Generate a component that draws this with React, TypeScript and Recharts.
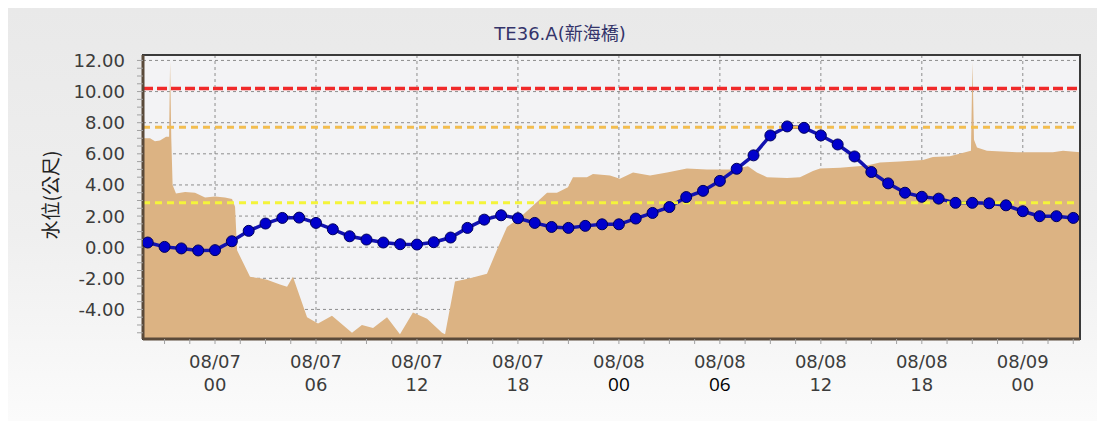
import {
  ComposedChart,
  Area,
  Line,
  XAxis,
  YAxis,
  CartesianGrid,
  ReferenceLine,
  ReferenceArea,
} from "recharts";

// x values are hours counted from 08/07 00:00
const levelHours = [
  -4, -3, -2, -1, 0, 1, 2, 3, 4, 5, 6, 7, 8, 9, 10, 11, 12, 13, 14, 15, 16, 17, 18, 19,
  20, 21, 22, 23, 24, 25, 26, 27, 28, 29, 30, 31, 32, 33, 34, 35, 36, 37, 38, 39, 40,
  41, 42, 43, 44, 45, 46, 47, 48, 49, 50, 51,
];
const levelValues = [
  0.3, 0.02, -0.08, -0.21, -0.19, 0.38, 1.05, 1.52, 1.88, 1.9, 1.56, 1.15, 0.7, 0.49,
  0.3, 0.19, 0.17, 0.32, 0.62, 1.24, 1.77, 2.05, 1.86, 1.56, 1.3, 1.24, 1.37, 1.47,
  1.47, 1.84, 2.2, 2.58, 3.22, 3.62, 4.26, 5.04, 5.9, 7.18, 7.76, 7.67, 7.18, 6.6,
  5.83, 4.83, 4.1, 3.5, 3.24, 3.12, 2.85, 2.85, 2.82, 2.69, 2.31, 1.99, 1.99, 1.88,
];

const groundHours = [
  -4.28, -3.86, -3.57, -3.27, -2.91, -2.73, -2.67, -2.6, -2.52, -2.32, -1.78, -1.19,
  -0.59, 0, 0.59, 1.01, 1.19, 1.31, 2.08, 2.67, 3.09, 3.86, 4.28, 4.63, 5.47, 6.12,
  6.95, 8.14, 8.73, 9.39, 10.22, 10.99, 11.76, 12.6, 13.49, 13.67, 14.26, 15.15, 16.16,
  16.82, 17.35, 18.12, 19.13, 19.73, 20.32, 20.97, 21.27, 22.1, 22.46, 23.47, 24.06,
  24.84, 25.85, 26.86, 28.04, 29.23, 30.6, 31.67, 32.2, 32.8, 33.99, 34.76, 35.53,
  35.95, 37.14, 38.74, 39.51, 40.7, 42.07, 42.66, 43.67, 44.92, 45.01, 45.1, 45.28,
  45.87, 47.65, 49.79, 50.39, 51.4,
];
const groundValues = [
  7.0, 7.0, 6.8, 6.85, 7.1, 7.1, 11.9, 7.0, 4.0, 3.45, 3.55, 3.5, 3.2, 3.25, 3.2, 3.1,
  2.6, -0.2, -1.9, -2.0, -2.1, -2.4, -2.55, -1.9, -4.5, -4.9, -4.4, -5.5, -5.0, -5.2,
  -4.5, -5.6, -4.2, -4.6, -5.5, -5.6, -2.2, -2.0, -1.7, 0.0, 1.3, 1.9, 2.9, 3.5, 3.5,
  3.85, 4.5, 4.5, 4.7, 4.6, 4.4, 4.8, 4.6, 4.8, 5.05, 5.0, 5.0, 5.2, 4.8, 4.5, 4.45,
  4.5, 4.9, 5.05, 5.1, 5.25, 5.45, 5.5, 5.6, 5.8, 5.85, 6.2, 11.9, 6.9, 6.4, 6.2, 6.1,
  6.1, 6.2, 6.1,
];

const alertRed = 10.2;
const alertOrange = 7.7;
const alertYellow = 2.85;

const xTicks = [
  -3, -1.5, 0, 1.5, 3, 4.5, 6, 7.5, 9, 10.5, 12, 13.5, 15, 16.5, 18, 19.5, 21, 22.5, 24,
  25.5, 27, 28.5, 30, 31.5, 33, 34.5, 36, 37.5, 39, 40.5, 42, 43.5, 45, 46.5, 48, 49.5, 51,
];
const xMajor = [0, 6, 12, 18, 24, 30, 36, 42, 48];
const xDates = ["08/07", "08/07", "08/07", "08/07", "08/08", "08/08", "08/08", "08/08", "08/09"];
const xHours = ["00", "06", "12", "18", "00", "06", "12", "18", "00"];

const yMajor = [-4, -2, 0, 2, 4, 6, 8, 10, 12];
const yTicks = [
  -5.5, -5, -4.5, -4, -3.5, -3, -2.5, -2, -1.5, -1, -0.5, 0, 0.5, 1, 1.5, 2, 2.5, 3, 3.5,
  4, 4.5, 5, 5.5, 6, 6.5, 7, 7.5, 8, 8.5, 9, 9.5, 10, 10.5, 11, 11.5, 12,
];

const X_MIN = -4.28;
const X_MAX = 51.4;
const Y_MIN = -5.9;
const Y_MAX = 12.35;

const levelData = levelHours.map((t, i) => ({ t, v: levelValues[i] }));
const groundData = groundHours.map((t, i) => ({ t, v: groundValues[i] }));

const tickFont = "'DejaVu Sans', Verdana, sans-serif";

function XTick({ x, y, payload }: any) {
  const i = xMajor.indexOf(payload.value);
  if (i < 0) return <g />;
  // the 08/08 00 and 06 hour labels are set in a different, black font
  const odd = i === 4 || i === 5;
  return (
    <g>
      <text x={x} y={y + 24} textAnchor="middle" fontSize={18} fill="#3c3c3c" fontFamily={tickFont}>
        {xDates[i]}
      </text>
      <text
        x={x}
        y={y + 47}
        textAnchor="middle"
        fontSize={odd ? 19 : 18}
        fill={odd ? "#000" : "#3c3c3c"}
        fontFamily={odd ? "'Open Sans', sans-serif" : tickFont}
      >
        {xHours[i]}
      </text>
    </g>
  );
}

function YTick({ x, y, payload }: any) {
  if (!yMajor.includes(payload.value)) return <g />;
  return (
    <text x={x} y={y + 6.5} textAnchor="end" fontSize={18} fill="#3c3c3c" fontFamily={tickFont}>
      {payload.value.toFixed(2)}
    </text>
  );
}

export default function App() {
  return (
    <div
      style={{
        position: "relative",
        width: 1089,
        height: 413,
        background: "linear-gradient(to bottom, #e9e9e9 0%, #efefef 55%, #fbfbfb 100%)",
      }}
    >
      <div
        style={{
          position: "absolute",
          left: 552,
          top: 11,
          transform: "translateX(-50%)",
          fontFamily: "'DejaVu Sans', 'Noto Sans CJK TC', sans-serif",
          fontSize: 18,
          color: "#34346a",
          whiteSpace: "nowrap",
        }}
      >
        TE36.A(新海橋)
      </div>
      <div
        style={{
          position: "absolute",
          left: 41,
          top: 187,
          transform: "translate(-50%, -50%) rotate(-90deg)",
          fontFamily: "'Noto Sans CJK TC', sans-serif",
          fontSize: 19,
          color: "#222",
          whiteSpace: "nowrap",
        }}
      >
        水位(公尺)
      </div>
      <ComposedChart width={1089} height={413} margin={{ top: 47, right: 17, bottom: 0, left: 0 }}>
        <CartesianGrid
          fill="#f3f3f5"
          stroke="#8e8e8e"
          strokeDasharray="3 3"
          verticalValues={xMajor}
          horizontalValues={yMajor}
        />
        <XAxis
          type="number"
          dataKey="t"
          domain={[X_MIN, X_MAX]}
          allowDataOverflow
          ticks={xTicks}
          interval={0}
          height={82}
          tickSize={5}
          tickMargin={0}
          tickLine={{ stroke: "#a0a0a0" }}
          axisLine={{ stroke: "#5a4a3a", strokeWidth: 3 }}
          tick={<XTick />}
        />
        <YAxis
          type="number"
          domain={[Y_MIN, Y_MAX]}
          allowDataOverflow
          ticks={yTicks}
          interval={0}
          width={135}
          tickSize={6}
          tickMargin={12}
          tickLine={{ stroke: "#a0a0a0" }}
          axisLine={{ stroke: "#5a4a3a", strokeWidth: 3 }}
          tick={<YTick />}
        />
        <Area
          data={groundData}
          dataKey="v"
          type="linear"
          baseValue={Y_MIN}
          fill="#dcb383"
          fillOpacity={1}
          stroke="none"
          isAnimationActive={false}
        />
        <Line
          data={levelData}
          dataKey="v"
          type="linear"
          stroke="#1212b0"
          strokeWidth={3.5}
          dot={{ r: 5.5, fill: "#0000cc", stroke: "#00005a", strokeWidth: 1 }}
          activeDot={false}
          isAnimationActive={false}
        />
        <ReferenceLine y={alertRed} stroke="#f02a2a" strokeWidth={3.5} strokeDasharray="10 4" zIndex={450} />
        <ReferenceLine y={alertOrange} stroke="#f2bd50" strokeWidth={3} strokeDasharray="7 5" zIndex={450} />
        <ReferenceLine y={alertYellow} stroke="#f4f43a" strokeWidth={3} strokeDasharray="7 5" zIndex={450} />
        <ReferenceArea
          x1={X_MIN}
          x2={X_MAX}
          y1={Y_MIN}
          y2={Y_MAX}
          fill="none"
          stroke="#3a3a3a"
          strokeWidth={2}
          zIndex={460}
        />
      </ComposedChart>
    </div>
  );
}
